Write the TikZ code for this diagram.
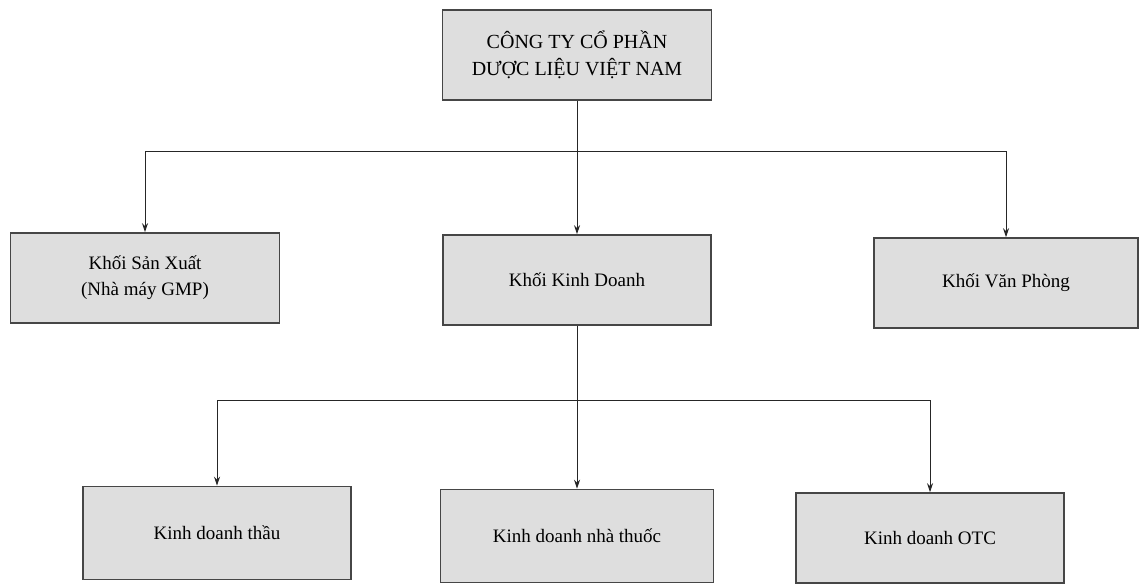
\documentclass[tikz,border=0pt]{standalone}
\usepackage{fontspec}
\setmainfont{Liberation Serif}
\usetikzlibrary{arrows.meta}
\definecolor{boxfill}{RGB}{222,222,222}
\definecolor{boxline}{RGB}{70,70,70}
\tikzset{
  orgbox/.style={draw=boxline, line width=1.6pt, fill=boxfill, align=center,
    inner sep=2pt, font=\fontsize{19}{26}\selectfont},
  conn/.style={draw=black!85, line width=1pt, -{Stealth[length=9pt,width=6pt]}}
}
\begin{document}
\begin{tikzpicture}[x=1pt,y=-1pt]
\useasboundingbox (0,0) rectangle (1139,588);
\fill[white] (0,0) rectangle (1139,588);
\node[orgbox, minimum width=269pt, minimum height=90pt, font=\fontsize{20}{27}\selectfont] (top) at (577,55)
  {CÔNG TY CỔ PHẦN\\DƯỢC LIỆU VIỆT NAM};
\node[orgbox, minimum width=269pt, minimum height=90pt] (sx) at (145,278)
  {Khối Sản Xuất\\(Nhà máy GMP)};
\node[orgbox, minimum width=268pt, minimum height=90pt] (kd) at (577,280)
  {Khối Kinh Doanh};
\node[orgbox, minimum width=264pt, minimum height=90pt] (vp) at (1006,283)
  {Khối Văn Phòng};
\node[orgbox, minimum width=268pt, minimum height=93pt] (thau) at (217,533)
  {Kinh doanh thầu};
\node[orgbox, minimum width=273pt, minimum height=93pt] (nt) at (577,536)
  {Kinh doanh nhà thuốc};
\node[orgbox, minimum width=268pt, minimum height=90pt] (otc) at (930,538)
  {Kinh doanh OTC};
\coordinate (b1) at (577,152);
\coordinate (b2) at (577,400);
\draw[conn] (top.south) -- (kd.north);
\draw[conn] (b1) -| (sx.north);
\draw[conn] (b1) -| (vp.north);
\draw[conn] (kd.south) -- (nt.north);
\draw[conn] (b2) -| (thau.north);
\draw[conn] (b2) -| (otc.north);
\end{tikzpicture}
\end{document}
